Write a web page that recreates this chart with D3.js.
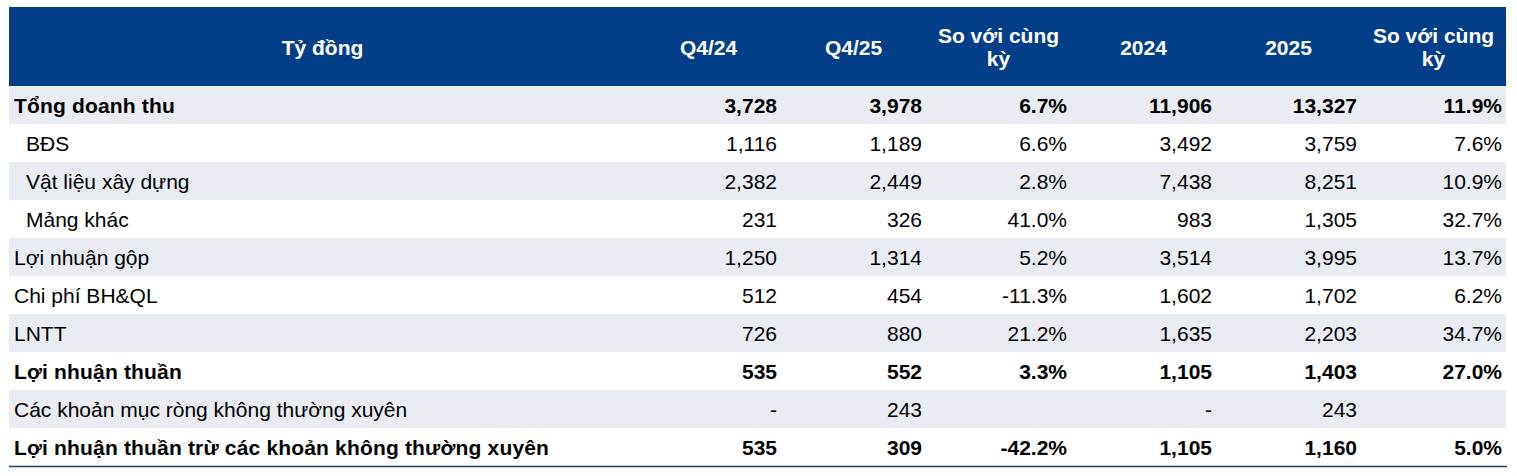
<!DOCTYPE html>
<html>
<head>
<meta charset="utf-8">
<script src="https://cdn.jsdelivr.net/npm/d3@7"></script>
<style>
  body { margin: 0; background: #fff; }
  svg text { font-family: "Liberation Sans", Arial, sans-serif; }
</style>
</head>
<body>
<div id="table"></div>
<script>
// row labels and their flags
const rowLabels = [
  "Tổng doanh thu",
  "BĐS",
  "Vật liệu xây dựng",
  "Mảng khác",
  "Lợi nhuận gộp",
  "Chi phí BH&QL",
  "LNTT",
  "Lợi nhuận thuần",
  "Các khoản mục ròng không thường xuyên",
  "Lợi nhuận thuần trừ các khoản không thường xuyên",
];
const boldRows = [true, false, false, false, false, false, false, true, false, true];
const indentRows = [false, true, true, true, false, false, false, false, false, false];

// header labels
const headerFirst = "Tỷ đồng";
const headerCols = [["Q4/24"], ["Q4/25"], ["So với cùng", "kỳ"], ["2024"], ["2025"], ["So với cùng", "kỳ"]];

// values (tỷ đồng) and yoy changes (%)
const q424 = [3728, 1116, 2382, 231, 1250, 512, 726, 535, null, 535];
const q425 = [3978, 1189, 2449, 326, 1314, 454, 880, 552, 243, 309];
const yoyQ = [6.7, 6.6, 2.8, 41.0, 5.2, -11.3, 21.2, 3.3, null, -42.2];
const y2024 = [11906, 3492, 7438, 983, 3514, 1602, 1635, 1105, null, 1105];
const y2025 = [13327, 3759, 8251, 1305, 3995, 1702, 2203, 1403, 243, 1160];
const yoyY = [11.9, 7.6, 10.9, 32.7, 13.7, 6.2, 34.7, 27.0, null, 5.0];

const columns = [
  { key: "q424", values: q424, pct: false },
  { key: "q425", values: q425, pct: false },
  { key: "yoyQ", values: yoyQ, pct: true },
  { key: "y2024", values: y2024, pct: false },
  { key: "y2025", values: y2025, pct: false },
  { key: "yoyY", values: yoyY, pct: true },
];

const W = 1517, H = 476;
const left = 9, right = 1506, firstColRight = 636;
const headTop = 7, headBottom = 86, tableBottom = 466;
const fontSize = 21;
const headColor = "#033f88";
const shade = "#e9ecf3";

const svg = d3.select("#table").append("svg").attr("width", W).attr("height", H);

const x = d3.scaleBand().domain(columns.map((c) => c.key)).range([firstColRight, right]);
const y = d3.scaleBand().domain(d3.range(rowLabels.length)).range([headBottom, tableBottom]);

// plain hyphen for negatives, like the source
const fmtNum = d3.formatLocale({ decimal: ".", thousands: ",", grouping: [3], currency: ["", ""], minus: "-" }).format(",.0f");
const fmtPct = (v) => (v < 0 ? "-" : "") + Math.abs(v).toFixed(1) + "%";

// header
svg.append("rect")
  .attr("x", left).attr("y", headTop)
  .attr("width", right - left).attr("height", headBottom - headTop)
  .attr("fill", headColor);

const headMid = (headTop + headBottom) / 2;
const lineH = 23;
const shiftY = fontSize * 0.35 + 1;

svg.append("text")
  .attr("x", (left + firstColRight) / 2).attr("y", headMid + shiftY)
  .attr("text-anchor", "middle").attr("fill", "#fff")
  .attr("font-weight", "bold").attr("font-size", fontSize)
  .text(headerFirst);

const heads = svg.append("g").selectAll("text")
  .data(columns)
  .enter().append("text")
  .attr("text-anchor", "middle").attr("fill", "#fff")
  .attr("font-weight", "bold").attr("font-size", fontSize);

heads.each(function (d, i) {
  const lines = headerCols[i];
  const t = d3.select(this);
  lines.forEach((s, j) => {
    t.append("tspan")
      .attr("x", x(d.key) + x.bandwidth() / 2)
      .attr("y", headMid + (j - (lines.length - 1) / 2) * lineH + shiftY)
      .text(s);
  });
});

// rows
const rows = svg.append("g").selectAll("g")
  .data(rowLabels)
  .enter().append("g")
  .attr("transform", (d, i) => `translate(0,${y(i)})`);

rows.append("rect")
  .attr("x", left).attr("width", right - left)
  .attr("height", y.bandwidth())
  .attr("fill", (d, i) => (i % 2 === 0 ? shade : "#fff"));

const baseY = y.bandwidth() / 2 + shiftY;

rows.append("text")
  .attr("x", (d, i) => (indentRows[i] ? 26 : 14))
  .attr("y", baseY)
  .attr("font-size", fontSize)
  .attr("font-weight", (d, i) => (boldRows[i] ? "bold" : "normal"))
  .attr("letter-spacing", (d, i) => (boldRows[i] ? 0.17 : 0))
  .attr("fill", "#000")
  .text((d) => d);

columns.forEach((c) => {
  rows.append("text")
    .attr("x", x(c.key) + x.bandwidth() - 4)
    .attr("y", baseY)
    .attr("text-anchor", "end")
    .attr("font-size", fontSize)
    .attr("font-weight", (d, i) => (boldRows[i] ? "bold" : "normal"))
    .attr("fill", "#000")
    .text((d, i) => {
      const v = c.values[i];
      if (v == null) return c.pct ? "" : "-";
      return c.pct ? fmtPct(v) : fmtNum(v);
    });
});

// bottom rule
svg.append("line")
  .attr("x1", left).attr("x2", right + 1)
  .attr("y1", tableBottom + 0.5).attr("y2", tableBottom + 0.5)
  .attr("stroke", "#1f3a6b").attr("stroke-width", 1.5);
</script>
</body>
</html>
